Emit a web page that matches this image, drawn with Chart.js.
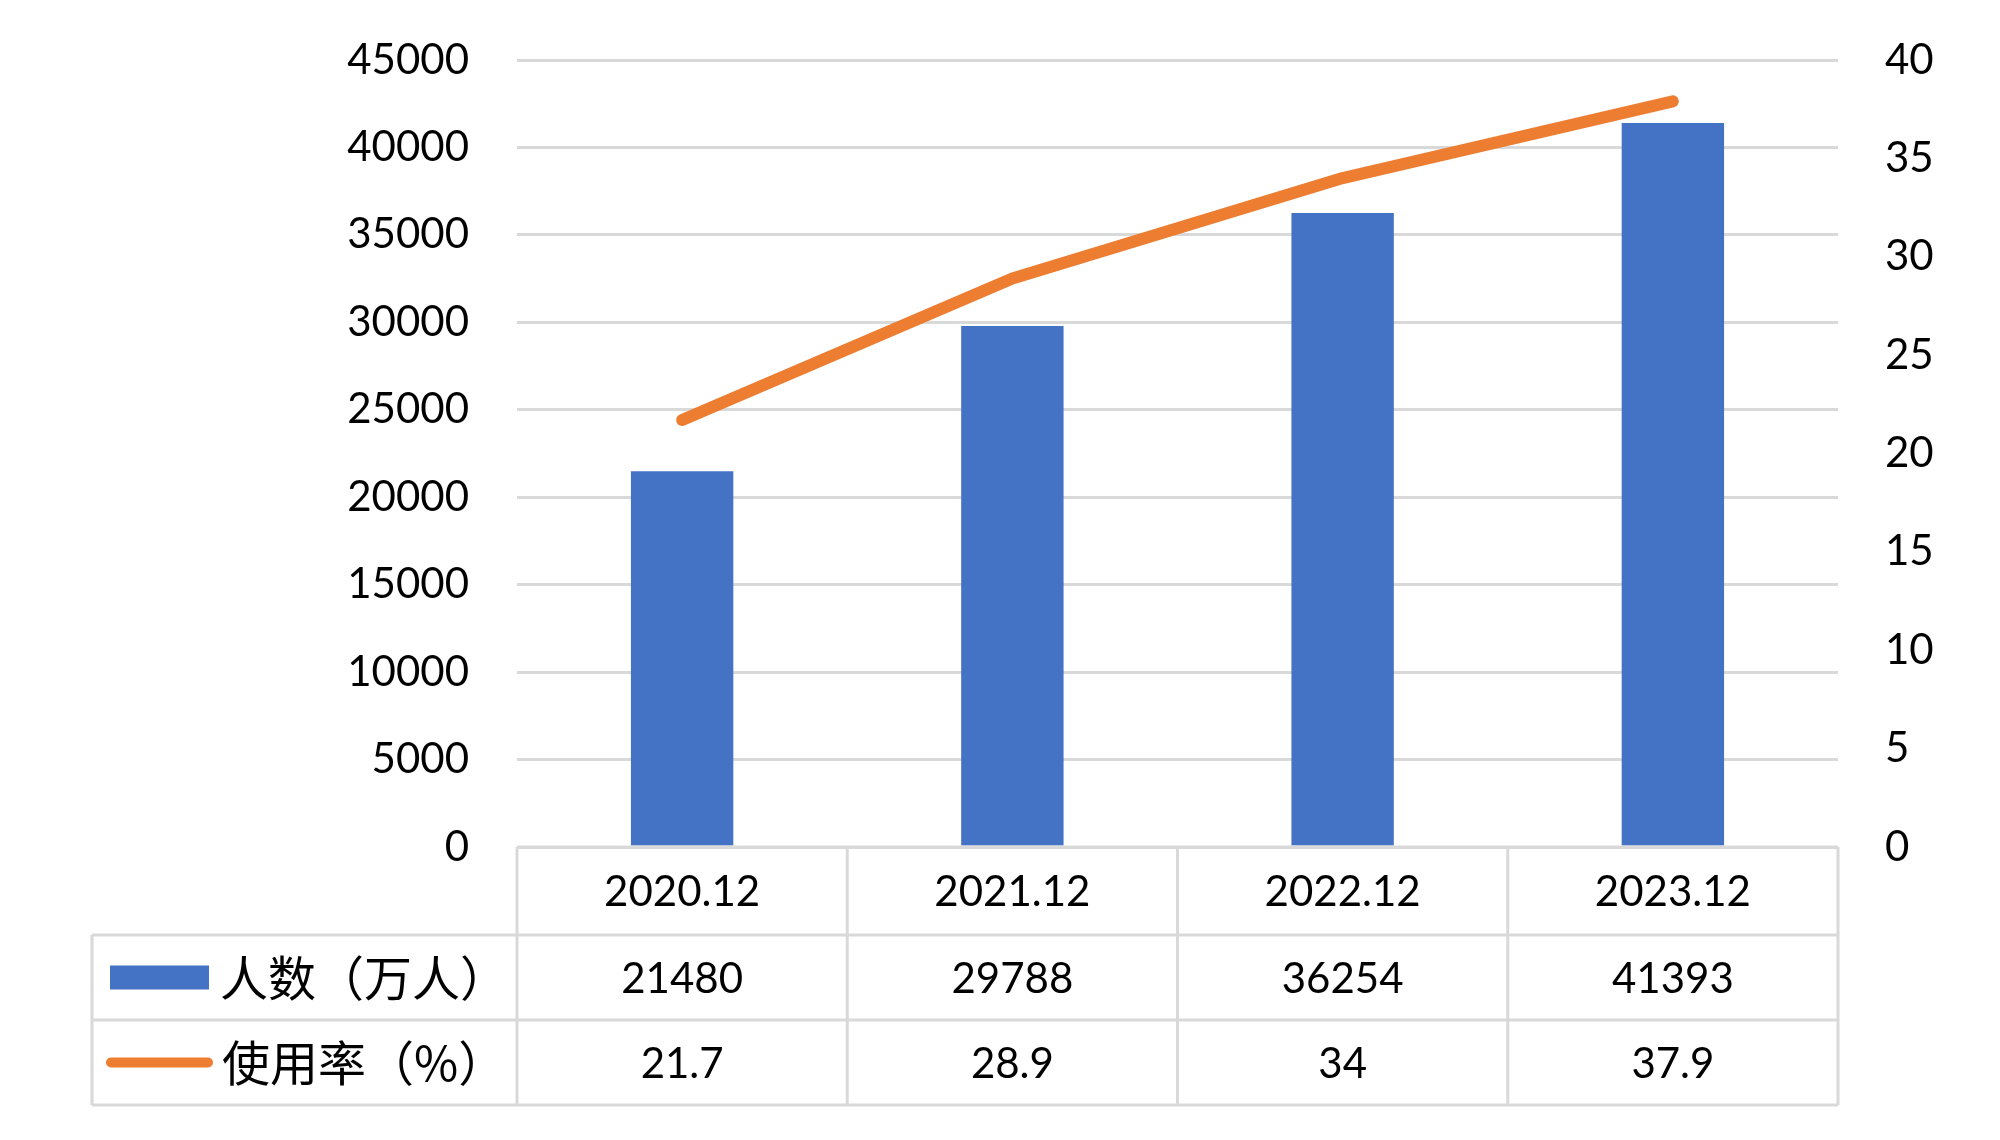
<!DOCTYPE html>
<html><head><meta charset="utf-8">
<script src="https://cdn.jsdelivr.net/npm/chart.js@4"></script>
<style>html,body{margin:0;padding:0;background:#fff}#wrap{width:2000px;height:1140px}</style>
</head><body><div id="wrap"><canvas id="c" width="2000" height="1140"></canvas></div>
<script>
const categories = ['2020.12', '2021.12', '2022.12', '2023.12'];
const users = [21480, 29788, 36254, 41393];
const rates = [21.7, 28.9, 34, 37.9];
const seriesNames = ['人数（万人）', '使用率（%）'];
const leftAxis = { min: 0, max: 45000, step: 5000 };
const rightAxis = { min: 0, max: 40, step: 5 };

const BLUE = '#4472C4', ORANGE = '#ED7D31', GRID = '#D9D9D9';
const NUMFONT = "Lato, 'Noto Sans CJK SC', sans-serif";
const CJKFONT = "'Noto Sans CJK SC', sans-serif";

const tablePlugin = {
  id: 'dataTable',
  afterDraw(chart) {
    const ctx = chart.ctx, a = chart.chartArea, xs = chart.scales.x;
    const rows = [a.bottom, a.bottom + 88, a.bottom + 173, a.bottom + 258];
    const tableLeft = 92;
    const n = categories.length;
    const colW = (a.right - a.left) / n;
    ctx.save();
    ctx.strokeStyle = GRID; ctx.lineWidth = 3;
    ctx.beginPath();
    ctx.moveTo(a.left, rows[0]); ctx.lineTo(a.right, rows[0]);
    for (let r = 1; r < rows.length; r++) { ctx.moveTo(tableLeft, rows[r]); ctx.lineTo(a.right, rows[r]); }
    for (let i = 0; i <= n; i++) { const x = a.left + i * colW; ctx.moveTo(x, rows[0]); ctx.lineTo(x, rows[3]); }
    ctx.moveTo(tableLeft, rows[1]); ctx.lineTo(tableLeft, rows[3]);
    ctx.stroke();

    ctx.fillStyle = '#000'; ctx.textAlign = 'center'; ctx.textBaseline = 'middle';
    ctx.font = "42px " + NUMFONT;
    const series = [users, rates];
    for (let s = 0; s < series.length; s++) {
      const cy = (rows[s + 1] + rows[s + 2]) / 2;
      series[s].forEach((v, i) => ctx.fillText(String(v), xs.getPixelForValue(i), cy + 2));
    }
    const cy1 = (rows[1] + rows[2]) / 2, cy2 = (rows[2] + rows[3]) / 2;
    ctx.fillStyle = BLUE; ctx.fillRect(110, cy1 - 12, 99, 24);
    ctx.strokeStyle = ORANGE; ctx.lineWidth = 10; ctx.lineCap = 'round';
    ctx.beginPath(); ctx.moveTo(111, cy2); ctx.lineTo(208, cy2); ctx.stroke();
    ctx.fillStyle = '#000'; ctx.textAlign = 'left'; ctx.font = "48px " + CJKFONT;
    ctx.fillText(seriesNames[0], 220, cy1);
    ctx.fillText(seriesNames[1], 222, cy2);
    ctx.restore();
  }
};

new Chart(document.getElementById('c'), {
  data: {
    labels: categories,
    datasets: [
      { type: 'line', label: seriesNames[1], data: rates, yAxisID: 'y1', borderColor: ORANGE, borderWidth: 12,
        pointRadius: 0, borderCapStyle: 'round', borderJoinStyle: 'round', tension: 0, order: 0 },
      { type: 'bar', label: seriesNames[0], data: users, yAxisID: 'y', backgroundColor: BLUE,
        categoryPercentage: 1, barPercentage: 0.31, order: 1 }
    ]
  },
  options: {
    responsive: false, animation: false, devicePixelRatio: 1,
    layout: { padding: { top: 60, left: 0, right: 0, bottom: 0 } },
    plugins: { legend: { display: false }, tooltip: { enabled: false } },
    scales: {
      x: {
        grid: { display: false, drawTicks: false }, border: { display: false },
        ticks: { color: '#000', font: { family: NUMFONT, size: 42 }, padding: 20, maxRotation: 0 },
        afterFit(s) { s.height = 293; }
      },
      y: {
        position: 'left', min: leftAxis.min, max: leftAxis.max,
        grid: { color: GRID, lineWidth: 3, drawTicks: true, tickLength: 45, tickColor: 'rgba(0,0,0,0)' },
        border: { display: false },
        ticks: { stepSize: leftAxis.step, color: '#000', font: { family: NUMFONT, size: 42 }, padding: 3,
          callback: v => String(v) },
        afterFit(s) { s.width = 517; }
      },
      y1: {
        position: 'right', min: rightAxis.min, max: rightAxis.max,
        grid: { display: true, drawOnChartArea: false, drawTicks: true, tickLength: 44,
          color: 'rgba(0,0,0,0)', tickColor: 'rgba(0,0,0,0)' },
        border: { display: false },
        ticks: { stepSize: rightAxis.step, color: '#000', font: { family: NUMFONT, size: 42 }, padding: 3,
          callback: v => String(v) },
        afterFit(s) { s.width = 162; }
      }
    }
  },
  plugins: [tablePlugin]
});
</script></body></html>
